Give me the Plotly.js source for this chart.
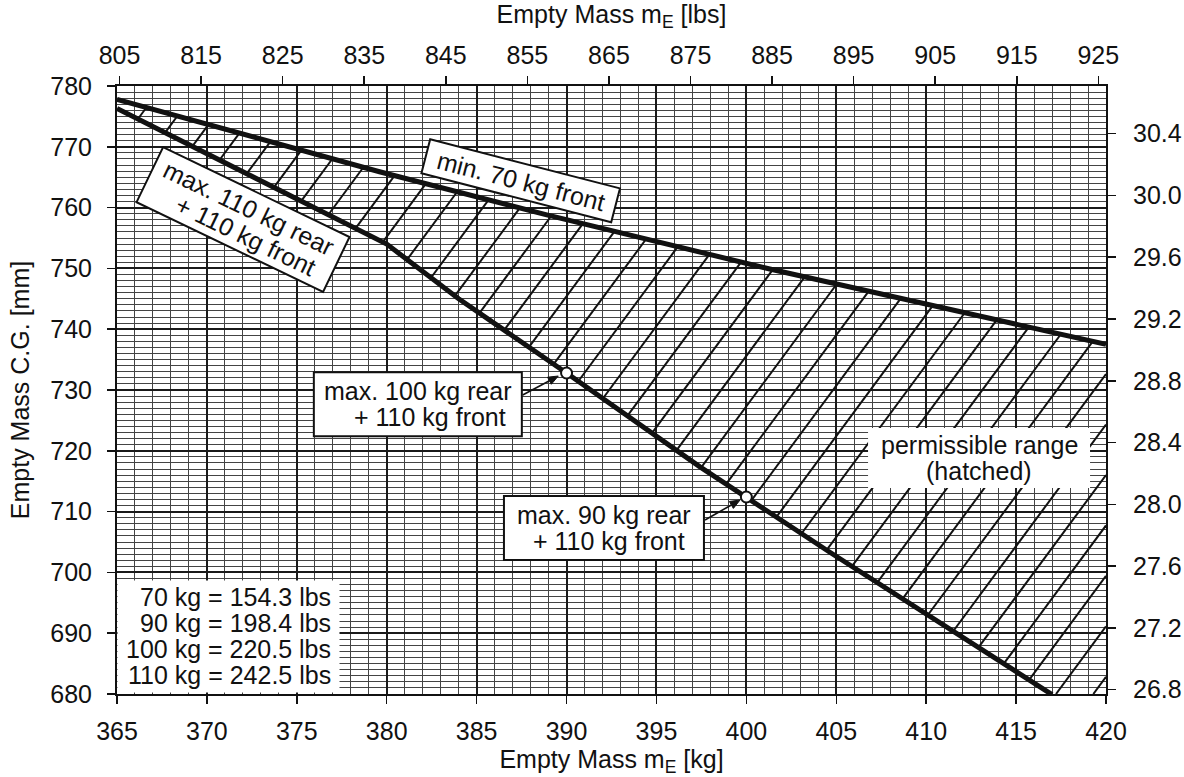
<!DOCTYPE html>
<html>
<head>
<meta charset="utf-8">
<script src="https://cdn.plot.ly/plotly-3.0.1.min.js"></script>
<style>
  html, body { margin: 0; padding: 0; background: #fff; }
  #chart { width: 1184px; height: 777px; }
</style>
</head>
<body>
<div id="chart"></div>
<script>
// ---------------- data ----------------
const upperKg = [365, 379.6, 388.9, 401.3, 420];          // "min. 70 kg front" boundary
const upperMm = [777.8, 765.9, 758.8, 749.9, 737.5];
const lowerKg = [365, 380, 384, 390, 397.4, 400, 404.6, 417]; // rear-load boundary
const lowerMm = [776.3, 754.0, 745.0, 732.8, 717.4, 712.4, 703.4, 679.9];
const markerKg = [390, 400];
const markerMm = [732.8, 712.4];

const kgTicks  = [365, 370, 375, 380, 385, 390, 395, 400, 405, 410, 415, 420];
const mmTicks  = [680, 690, 700, 710, 720, 730, 740, 750, 760, 770, 780];
const lbsTicks = [805, 815, 825, 835, 845, 855, 865, 875, 885, 895, 905, 915, 925];
const inTicks  = [26.8, 27.2, 27.6, 28.0, 28.4, 28.8, 29.2, 29.6, 30.0, 30.4];

const conversionLines = ['70 kg = 154.3 lbs', '90 kg = 198.4 lbs', '100 kg = 220.5 lbs', '110 kg = 242.5 lbs'];

// ---------------- constants / style ----------------
const LBS_PER_KG = 2.2046226;
const MM_PER_IN = 25.4;
const X_RANGE = [365, 420];
const Y_RANGE = [680, 780];
const W = 1184, H = 777;
const M = { l: 117, r: 78, t: 86, b: 83 };
const PX_PER_KG = (W - M.l - M.r) / (X_RANGE[1] - X_RANGE[0]);
const PX_PER_MM = (H - M.t - M.b) / (Y_RANGE[1] - Y_RANGE[0]);
const FONT = '"Liberation Sans", Arial, Helvetica, sans-serif';
const INK = '#111111';
const FS = 25;

// hatch pattern (style of the permissible region)
const hatchSlope = 4.0;     // mm per kg
const hatchStep = 2.075;    // kg between hatch lines at constant height
const hatchAnchor = 404.77; // kg where one hatch line meets the 680 mm line

// ---------------- hatch computation ----------------
function polyAt(xs, ys, x) {
  let i = 0;
  if (x <= xs[0]) i = 0;
  else if (x >= xs[xs.length - 1]) i = xs.length - 2;
  else { while (i < xs.length - 2 && x > xs[i + 1]) i++; }
  const t = (x - xs[i]) / (xs[i + 1] - xs[i]);
  return ys[i] + t * (ys[i + 1] - ys[i]);
}
function crossing(xs, ys, c) {
  const g = x => polyAt(xs, ys, x) - (Y_RANGE[0] + hatchSlope * (x - c));
  let a = 250, b = 550;
  for (let k = 0; k < 80; k++) {
    const m = (a + b) / 2;
    if (g(m) > 0) a = m; else b = m;
  }
  return (a + b) / 2;
}
const hx = [], hy = [];
for (let k = -45; k <= 12; k++) {
  const c = hatchAnchor + k * hatchStep;
  const xL = crossing(lowerKg, lowerMm, c);
  const xU = crossing(upperKg, upperMm, c);
  const s = Math.max(xL, c, X_RANGE[0]);
  const e = Math.min(xU, X_RANGE[1]);
  if (e > s) {
    hx.push(s, e, null);
    hy.push(Y_RANGE[0] + hatchSlope * (s - c), Y_RANGE[0] + hatchSlope * (e - c), null);
  }
}

// ---------------- traces ----------------
const traces = [
  { x: hx, y: hy, mode: 'lines', line: { color: INK, width: 2 }, hoverinfo: 'skip', showlegend: false },
  { x: upperKg, y: upperMm, mode: 'lines', line: { color: INK, width: 5 }, showlegend: false },
  { x: lowerKg, y: lowerMm, mode: 'lines', line: { color: INK, width: 5 }, showlegend: false },
  { x: markerKg, y: markerMm, mode: 'markers', showlegend: false,
    marker: { size: 11, color: '#ffffff', line: { color: INK, width: 2 } } },
  // carrier for the lbs / inch axes
  { x: [X_RANGE[0] * LBS_PER_KG, X_RANGE[1] * LBS_PER_KG], y: [Y_RANGE[0] / MM_PER_IN, Y_RANGE[1] / MM_PER_IN],
    xaxis: 'x2', yaxis: 'y2', mode: 'markers', marker: { opacity: 0 }, hoverinfo: 'skip', showlegend: false }
];

// ---------------- label boxes ----------------
const shapes = [];
const annotations = [];
function addBox(b) {
  const th = b.ang * Math.PI / 180, co = Math.cos(th), si = Math.sin(th);
  const pts = [[-b.w / 2, -b.h / 2], [b.w / 2, -b.h / 2], [b.w / 2, b.h / 2], [-b.w / 2, b.h / 2]].map(([u, v]) => {
    const X = u * co - v * si, Y = u * si + v * co;
    return [X.toFixed(2), (-Y).toFixed(2)];
  });
  shapes.push({
    type: 'path', xref: 'x', yref: 'y', xsizemode: 'pixel', ysizemode: 'pixel',
    xanchor: b.cx, yanchor: b.cy, layer: 'above',
    path: 'M' + pts.map(p => p.join(',')).join('L') + 'Z',
    fillcolor: '#ffffff',
    line: { color: b.border ? INK : 'rgba(0,0,0,0)', width: b.border ? 2 : 0 }
  });
  b.lines.forEach(l => {
    const dx = l.u * co - l.v * si, dy = l.u * si + l.v * co;
    annotations.push({
      x: b.cx, y: b.cy, xref: 'x', yref: 'y', text: l.t, showarrow: false,
      xanchor: l.anchor || 'center', yanchor: 'middle',
      xshift: dx, yshift: -dy, textangle: b.ang,
      font: { family: FONT, size: FS, color: INK }
    });
  });
}
addBox({ cx: 387.45, cy: 764.41, w: 196, h: 35, ang: 14.5, border: true,
  lines: [{ t: 'min. 70 kg front', u: 0, v: 0 }] });
addBox({ cx: 372.01, cy: 758.03, w: 207, h: 61, ang: 25.7, border: true,
  lines: [{ t: 'max. 110 kg rear', u: 0, v: -13 }, { t: '+ 110 kg front', u: 10, v: 13 }] });
addBox({ cx: 381.73, cy: 727.64, w: 208, h: 64, ang: 0, border: true,
  lines: [{ t: 'max. 100 kg rear', u: 0, v: -13 }, { t: '+ 110 kg front', u: 12, v: 13 }] });
addBox({ cx: 392.08, cy: 707.30, w: 200, h: 64, ang: 0, border: true,
  lines: [{ t: 'max. 90 kg rear', u: 0, v: -13 }, { t: '+ 110 kg front', u: 5, v: 13 }] });
addBox({ cx: 412.94, cy: 718.82, w: 222, h: 60, ang: 0, border: false,
  lines: [{ t: 'permissible range', u: 0, v: -13 }, { t: '(hatched)', u: 0, v: 13 }] });
addBox({ cx: 371.20, cy: 689.46, w: 222, h: 112, ang: 0, border: false,
  lines: conversionLines.map((t, i) => ({ t, u: 104.5, v: -39 + i * 26, anchor: 'right' })) });

// arrows from the boxes to the marked points: [headKg, headMm, tailKg, tailMm]
[[389.54, 732.30, 387.56, 729.18], [399.65, 711.91, 397.70, 708.62]].forEach(([x, y, ax, ay]) => {
  const dxp = (x - ax) * PX_PER_KG, dyp = -(y - ay) * PX_PER_MM; // screen px, y down
  const len = Math.hypot(dxp, dyp), ux = dxp / len, uy = dyp / len;
  const L = 10, hw = 4;
  const bx = -ux * L, by = -uy * L;           // arrowhead base centre (screen)
  const p1 = [bx - uy * hw, by + ux * hw], p2 = [bx + uy * hw, by - ux * hw];
  shapes.push({ type: 'line', xref: 'x', yref: 'y', x0: ax, y0: ay,
    x1: x + bx / PX_PER_KG, y1: y - by / PX_PER_MM, layer: 'above', line: { color: INK, width: 1.6 } });
  shapes.push({ type: 'path', xref: 'x', yref: 'y', xsizemode: 'pixel', ysizemode: 'pixel',
    xanchor: x, yanchor: y, layer: 'above', fillcolor: INK, line: { color: INK, width: 1 },
    path: `M0,0L${p1[0].toFixed(2)},${(-p1[1]).toFixed(2)}L${p2[0].toFixed(2)},${(-p2[1]).toFixed(2)}Z` });
});

// ---------------- layout ----------------
const tickFont = { family: FONT, size: FS, color: INK };
const baseAxis = {
  ticks: 'outside', ticklen: 8, tickwidth: 1.5, tickcolor: INK,
  showline: true, linecolor: INK, linewidth: 2, zeroline: false,
  tickfont: tickFont, fixedrange: true
};
const layout = {
  width: W, height: H,
  margin: { l: M.l, r: M.r, t: M.t, b: M.b, pad: 0 },
  paper_bgcolor: '#ffffff', plot_bgcolor: '#ffffff',
  font: { family: FONT, size: FS, color: INK },
  showlegend: false,
  xaxis: Object.assign({}, baseAxis, {
    range: X_RANGE, tickmode: 'array', tickvals: kgTicks, ticktext: kgTicks.map(String),
    ticklabelstandoff: 6,
    showgrid: true, gridcolor: '#1a1a1a', gridwidth: 2,
    minor: { tickmode: 'linear', tick0: 365, dtick: 1, showgrid: true, gridcolor: '#444444', gridwidth: 1, ticks: '' },
    title: { text: 'Empty Mass m<sub>E</sub> [kg]', font: { family: FONT, size: FS, color: INK }, standoff: 8 }
  }),
  yaxis: Object.assign({}, baseAxis, {
    range: Y_RANGE, tickmode: 'array', tickvals: mmTicks, ticktext: mmTicks.map(String),
    ticklabelstandoff: 10,
    showgrid: true, gridcolor: '#1a1a1a', gridwidth: 2,
    minor: { tickmode: 'linear', tick0: 680, dtick: 1, showgrid: true, gridcolor: '#444444', gridwidth: 1, ticks: '' },
    title: { text: 'Empty Mass C.G. [mm]', font: { family: FONT, size: FS, color: INK }, standoff: 14 }
  }),
  xaxis2: Object.assign({}, baseAxis, {
    overlaying: 'x', side: 'top', anchor: 'y',
    range: [X_RANGE[0] * LBS_PER_KG, X_RANGE[1] * LBS_PER_KG],
    tickmode: 'array', tickvals: lbsTicks, ticktext: lbsTicks.map(String), showgrid: false,
    ticklabelstandoff: 2,
    title: { text: 'Empty Mass m<sub>E</sub> [lbs]', font: { family: FONT, size: FS, color: INK }, standoff: 12 }
  }),
  yaxis2: Object.assign({}, baseAxis, {
    overlaying: 'y', side: 'right', anchor: 'x',
    range: [Y_RANGE[0] / MM_PER_IN, Y_RANGE[1] / MM_PER_IN],
    tickmode: 'array', tickvals: inTicks, ticktext: inTicks.map(v => v.toFixed(1)), showgrid: false,
    ticklabelstandoff: 12
  }),
  shapes, annotations
};

Plotly.newPlot('chart', traces, layout, { staticPlot: true, displayModeBar: false });
</script>
</body>
</html>
